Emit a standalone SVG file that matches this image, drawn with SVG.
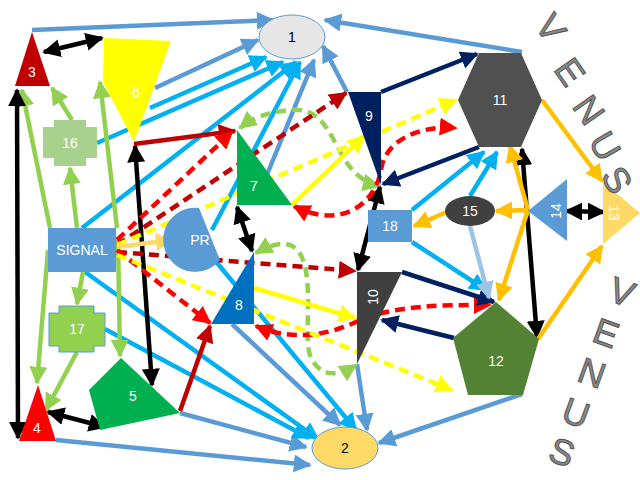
<svg xmlns="http://www.w3.org/2000/svg" width="640" height="480" viewBox="0 0 640 480">
<defs>
<marker id="mB" viewBox="0 0 10 10" refX="9" refY="5" markerWidth="4" markerHeight="4" orient="auto-start-reverse"><path d="M0,0L10,5L0,10z" fill="#5B9BD5"/></marker>
<marker id="mC" viewBox="0 0 10 10" refX="9" refY="5" markerWidth="4" markerHeight="4" orient="auto-start-reverse"><path d="M0,0L10,5L0,10z" fill="#00B0F0"/></marker>
<marker id="mG" viewBox="0 0 10 10" refX="9" refY="5" markerWidth="4" markerHeight="4" orient="auto-start-reverse"><path d="M0,0L10,5L0,10z" fill="#92D050"/></marker>
<marker id="mK" viewBox="0 0 10 10" refX="9" refY="5" markerWidth="4" markerHeight="4" orient="auto-start-reverse"><path d="M0,0L10,5L0,10z" fill="#000"/></marker>
<marker id="mDR" viewBox="0 0 10 10" refX="9" refY="5" markerWidth="4" markerHeight="4" orient="auto-start-reverse"><path d="M0,0L10,5L0,10z" fill="#C00000"/></marker>
<marker id="mR" viewBox="0 0 10 10" refX="9" refY="5" markerWidth="4" markerHeight="4" orient="auto-start-reverse"><path d="M0,0L10,5L0,10z" fill="#FF0000"/></marker>
<marker id="mY" viewBox="0 0 10 10" refX="9" refY="5" markerWidth="4" markerHeight="4" orient="auto-start-reverse"><path d="M0,0L10,5L0,10z" fill="#FFFF00"/></marker>
<marker id="mN" viewBox="0 0 10 10" refX="9" refY="5" markerWidth="4" markerHeight="4" orient="auto-start-reverse"><path d="M0,0L10,5L0,10z" fill="#002060"/></marker>
<marker id="mO" viewBox="0 0 10 10" refX="9" refY="5" markerWidth="4" markerHeight="4" orient="auto-start-reverse"><path d="M0,0L10,5L0,10z" fill="#FFC000"/></marker>
<marker id="mLO" viewBox="0 0 10 10" refX="9" refY="5" markerWidth="4" markerHeight="4" orient="auto-start-reverse"><path d="M0,0L10,5L0,10z" fill="#FFD966"/></marker>
<marker id="mLB" viewBox="0 0 10 10" refX="9" refY="5" markerWidth="4" markerHeight="4" orient="auto-start-reverse"><path d="M0,0L10,5L0,10z" fill="#9DC3E6"/></marker>
</defs>
<style>
line,path.c{fill:none;stroke-width:4.5}
.b{stroke:#5B9BD5;marker-end:url(#mB)}
.c{stroke:#00B0F0;marker-end:url(#mC)}
.g{stroke:#92D050;marker-end:url(#mG)}
.gd{stroke:#92D050;stroke-dasharray:10 6;marker-end:url(#mG);marker-start:url(#mG)}
.k{stroke:#000;marker-end:url(#mK);marker-start:url(#mK)}
.dr{stroke:#C00000;marker-end:url(#mDR)}
.drd{stroke:#C00000;stroke-dasharray:10 6;marker-end:url(#mDR)}
.rd{stroke:#FF0000;stroke-dasharray:10 6;marker-end:url(#mR)}
.rd2{stroke:#FF0000;stroke-dasharray:10 6;marker-end:url(#mR);marker-start:url(#mR)}
.y{stroke:#FFFF00;marker-end:url(#mY)}
.yd{stroke:#FFFF00;stroke-dasharray:10 6;marker-end:url(#mY)}
.n{stroke:#002060;marker-end:url(#mN)}
.o{stroke:#FFC000;marker-end:url(#mO)}
.lo{stroke:#FFD966;marker-end:url(#mLO)}
.lb{stroke:#9DC3E6;marker-end:url(#mLB)}
text{font-family:"Liberation Sans",Arial,sans-serif;font-size:14px;text-anchor:middle;dominant-baseline:central}
.w{fill:#fff}
.v{font-size:36px;fill:#8a8a8a;stroke:#555;stroke-width:1}
</style>
<g id="connectors">
<line class="b" x1="32" y1="30" x2="273" y2="20"/>
<line class="b" x1="155" y1="88" x2="258" y2="40"/>
<line class="b" x1="522" y1="52" x2="325" y2="20"/>
<line class="b" x1="347" y1="92" x2="323" y2="46"/>
<line class="b" x1="264" y1="182" x2="314" y2="60"/>
<line class="b" x1="56" y1="440" x2="310" y2="465"/>
<line class="b" x1="180" y1="413" x2="306" y2="447"/>
<line class="b" x1="232" y1="324" x2="340" y2="425"/>
<line class="b" x1="357" y1="364" x2="367" y2="430"/>
<line class="b" x1="522" y1="394" x2="379" y2="443"/>
<line class="c" x1="150" y1="108" x2="266" y2="57"/>
<line class="c" x1="97" y1="143" x2="283" y2="62"/>
<line class="c" x1="82" y1="228" x2="296" y2="62"/>
<line class="c" x1="212" y1="230" x2="300" y2="62"/>
<line class="c" x1="85" y1="272" x2="318" y2="439"/>
<line class="c" x1="105" y1="329" x2="309" y2="438"/>
<line class="c" x1="213" y1="258" x2="356" y2="430"/>
<line class="c" x1="412" y1="210" x2="484" y2="152"/>
<line class="c" x1="470" y1="196" x2="497" y2="152"/>
<line class="c" x1="412" y1="242" x2="486" y2="290"/>
<line class="g" x1="50" y1="228" x2="22" y2="90"/>
<line class="g" x1="72" y1="120" x2="52" y2="88"/>
<line class="g" x1="77" y1="228" x2="70" y2="168"/>
<line class="g" x1="117" y1="228" x2="100" y2="82"/>
<line class="g" x1="83" y1="272" x2="77" y2="304"/>
<line class="g" x1="48" y1="250" x2="37" y2="383"/>
<line class="g" x1="77" y1="352" x2="46" y2="410"/>
<line class="g" x1="118" y1="240" x2="120" y2="356"/>
<path class="c gd" d="M379,186 C330,175 340,105 290,110 C265,112 250,120 240,128"/>
<path class="c gd" d="M256,253 C330,210 300,330 310,355 C320,380 340,375 356,365"/>
<line class="k" x1="44" y1="52" x2="102" y2="38"/>
<line class="k" x1="17" y1="90" x2="18" y2="438"/>
<line class="k" x1="48" y1="412" x2="105" y2="427"/>
<line class="k" x1="135" y1="146" x2="152" y2="385"/>
<line class="k" x1="237" y1="207" x2="252" y2="251"/>
<line class="k" x1="380" y1="187" x2="358" y2="270"/>
<line class="k" x1="566" y1="211" x2="604" y2="212"/>
<line class="k" x1="522" y1="149" x2="537" y2="337"/>
<line class="dr" x1="134" y1="144" x2="235" y2="131"/>
<line class="dr" x1="180" y1="411" x2="210" y2="326"/>
<line class="drd" x1="117" y1="245" x2="346" y2="93"/>
<line class="drd" x1="117" y1="252" x2="355" y2="271"/>
<line class="rd" x1="117" y1="240" x2="232" y2="132"/>
<line class="rd" x1="117" y1="250" x2="210" y2="323"/>
<path class="c rd2" d="M294,206 C340,230 375,205 381,170 C385,140 420,125 456,128"/>
<path class="c rd2" d="M256,326 C300,345 340,330 360,320 C400,305 440,305 490,305"/>
<line class="y" x1="292" y1="205" x2="364" y2="136"/>
<line class="y" x1="254" y1="288" x2="355" y2="318"/>
<line class="yd" x1="117" y1="245" x2="456" y2="100"/>
<line class="yd" x1="117" y1="255" x2="452" y2="390"/>
<line class="n" x1="381" y1="92" x2="477" y2="54"/>
<line class="n" x1="479" y1="147" x2="383" y2="184"/>
<line class="n" x1="402" y1="272" x2="494" y2="302"/>
<line class="n" x1="454" y1="338" x2="382" y2="320"/>
<line class="o" x1="528" y1="210" x2="496" y2="211"/>
<line class="o" x1="447" y1="212" x2="414" y2="226"/>
<line class="o" x1="528" y1="210" x2="510" y2="146"/>
<line class="o" x1="528" y1="210" x2="499" y2="300"/>
<line class="o" x1="542" y1="100" x2="602" y2="181"/>
<line class="o" x1="538" y1="339" x2="602" y2="246"/>
<line class="lo" x1="117" y1="247" x2="172" y2="240"/>
<line class="lb" x1="470" y1="226" x2="489" y2="298"/>
</g>
<g id="n1"><ellipse cx="292" cy="37" rx="33" ry="22" fill="#E7E6E6" stroke="#5B9BD5"/><text x="292" y="37">1</text></g>
<g id="n2"><ellipse cx="345" cy="448" rx="33" ry="21" fill="#FFD966" stroke="#5B9BD5"/><text x="345" y="448">2</text></g>
<g id="n3"><path d="M32,32L50,86L15,86z" fill="#C00000"/><text class="w" x="32" y="72">3</text></g>
<g id="n6"><path d="M104,38L171,41L134,142L103,82z" fill="#FFFF00"/><text class="w" x="136" y="92">6</text></g>
<g id="n16"><path d="M54,120H86V127H97V158H86V166H54V158H43V127H54z" fill="#A9D18E"/><text class="w" x="70" y="143">16</text></g>
<g id="nSIGNAL"><rect x="48" y="228" width="68" height="44" fill="#5B9BD5"/><text class="w" x="82" y="250">SIGNAL</text></g>
<g id="n17"><path d="M59,306H94V313H105V346H94V352H59V346H49V313H59z" fill="#92D050" stroke="#5B9BD5"/><text class="w" x="77" y="329">17</text></g>
<g id="n4"><path d="M38,385L56,441L19,441z" fill="#FF0000"/><text class="w" x="37" y="428">4</text></g>
<g id="n5"><path d="M121,358L180,413L100,430L89,390z" fill="#00B050"/><text class="w" x="133" y="396">5</text></g>
<g id="n7"><path d="M237,130L237,205L292,205z" fill="#00B050"/><text class="w" x="254" y="186">7</text></g>
<g id="nPR"><path d="M199,208 A32,32 0 1 0 220,260 z" fill="#5B9BD5"/><text class="w" x="200" y="240">PR</text></g>
<g id="n8"><path d="M254,252L254,324L211,324z" fill="#0070C0"/><text class="w" x="239" y="305">8</text></g>
<g id="n9"><path d="M348,92L381,92L381,185z" fill="#002060"/><text class="w" x="369" y="116">9</text></g>
<g id="n18"><rect x="368" y="210" width="44" height="32" fill="#5B9BD5"/><text class="w" x="390" y="226">18</text></g>
<g id="n10"><path d="M357,272L402,272L357,364z" fill="#404040"/><text class="w" x="373" y="297" transform="rotate(-90 373 297)">10</text></g>
<g id="n11"><path d="M458,100L479,53L521,53L542,100L521,147L479,147z" fill="#505050"/><text class="w" x="500" y="100">11</text></g>
<g id="n15"><ellipse cx="470" cy="211" rx="25" ry="15" fill="#404040"/><text class="w" x="470" y="211">15</text></g>
<g id="n14"><path d="M528,211L567,179L567,241z" fill="#5B9BD5"/><text class="w" x="556" y="211" transform="rotate(-90 556 211)">14</text></g>
<g id="n13"><path d="M603,182L603,244L640,213z" fill="#FFD966"/><text class="w" x="614" y="213" transform="rotate(90 614 213)">13</text></g>
<g id="n12"><path d="M496,302L539,339L523,395L468,395L453,338z" fill="#548235"/><text class="w" x="496" y="361">12</text></g>
<g id="venus">
<text class="v" x="551" y="28" transform="rotate(55 551 28)">V</text>
<text class="v" x="570" y="72" transform="rotate(55 570 72)">E</text>
<text class="v" x="589" y="110" transform="rotate(55 589 110)">N</text>
<text class="v" x="605" y="146" transform="rotate(60 605 146)">U</text>
<text class="v" x="617" y="180" transform="rotate(60 617 180)">S</text>
<text class="v" x="622" y="292" transform="rotate(20 622 292)">V</text>
<text class="v" x="606" y="333" transform="rotate(20 606 333)">E</text>
<text class="v" x="592" y="373" transform="rotate(20 592 373)">N</text>
<text class="v" x="576" y="413" transform="rotate(20 576 413)">U</text>
<text class="v" x="562" y="452" transform="rotate(20 562 452)">S</text>
</g>
</svg>
